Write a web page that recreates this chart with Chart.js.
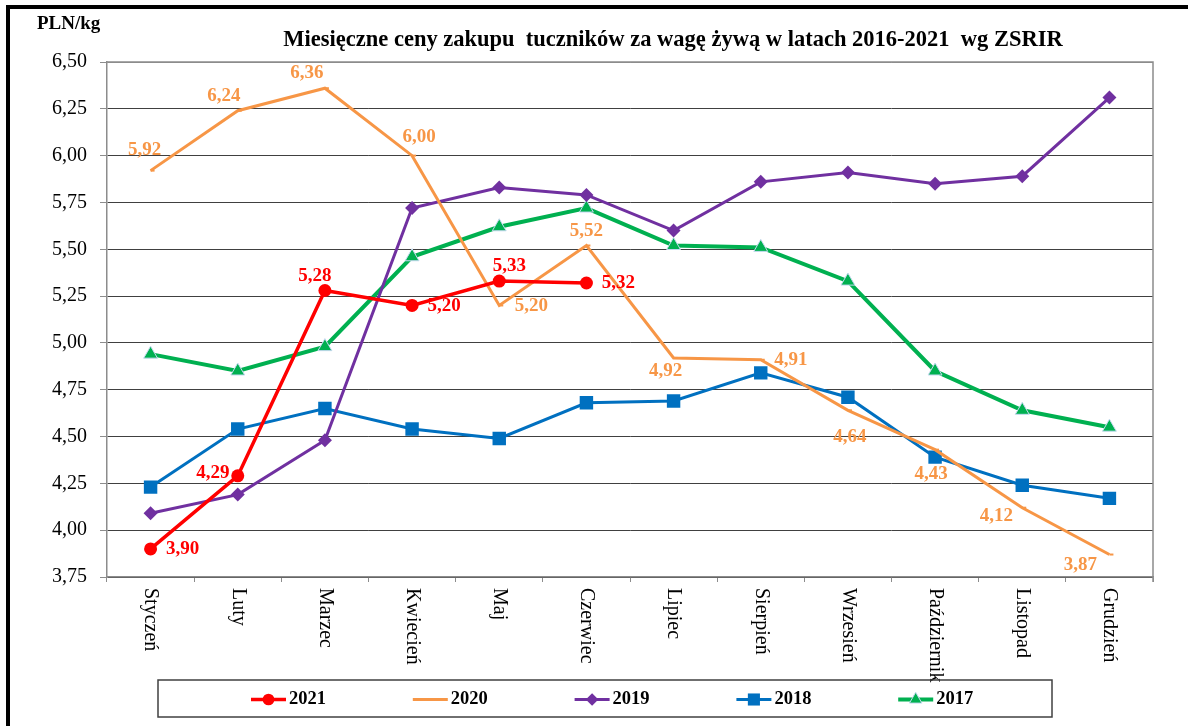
<!DOCTYPE html>
<html>
<head>
<meta charset="utf-8">
<script src="https://cdn.jsdelivr.net/npm/chart.js@4/dist/chart.umd.min.js"></script>
<style>
html,body{margin:0;padding:0;background:#fff;}
#wrap{width:1188px;height:726px;}
</style>
</head>
<body>
<div id="wrap"><canvas id="c" width="1188" height="726"></canvas></div>
<script>
const months = ['Styczeń','Luty','Marzec','Kwiecień','Maj','Czerwiec','Lipiec','Sierpień','Wrzesień','Październik','Listopad','Grudzień'];
const y2021 = [3.90, 4.29, 5.28, 5.20, 5.33, 5.32];
const y2020 = [5.92, 6.24, 6.36, 6.00, 5.20, 5.52, 4.92, 4.91, 4.64, 4.43, 4.12, 3.87];
const y2019 = [4.09, 4.19, 4.48, 5.72, 5.83, 5.79, 5.60, 5.86, 5.91, 5.85, 5.89, 6.31];
const y2018 = [4.23, 4.54, 4.65, 4.54, 4.49, 4.68, 4.69, 4.84, 4.71, 4.39, 4.24, 4.17];
const y2017 = [4.94, 4.85, 4.98, 5.46, 5.62, 5.72, 5.52, 5.51, 5.33, 4.85, 4.64, 4.55];
const seriesNames = ['2021', '2020', '2019', '2018', '2017'];
const yMin = 3.75, yMax = 6.50, yStep = 0.25;
const titleText = 'Miesięczne ceny zakupu  tuczników za wagę żywą w latach 2016-2021  wg ZSRIR';
const unitText = 'PLN/kg';

// label placement (styling only)
const lblOff2021 = [[32,0],[-25,-3],[-10,-14],[32,1],[10,-15],[32,0]];
const lblOff2020 = [[-6,-21],[-14,-15],[-18,-15],[7,-19],[32,1],[0,-14],[-8,13],[30,0],[2,27],[-4,24],[-26,8],[-29,11]];

const fmt = v => v.toFixed(2).replace('.', ',');
const SERIF = '"Liberation Serif", "Times New Roman", serif';

const COLORS = { r: '#FF0000', o: '#F79646', p: '#7030A0', b: '#0070C0', g: '#00B050' };

const datasets = [
  { label: seriesNames[0], data: y2021, borderColor: COLORS.r, backgroundColor: COLORS.r, borderWidth: 3.5,
    pointStyle: 'circle', pointRadius: 6.5, pointBorderWidth: 0, pointBackgroundColor: COLORS.r, _lbl: lblOff2021 },
  { label: seriesNames[1], data: y2020, borderColor: COLORS.o, backgroundColor: COLORS.o, borderWidth: 3,
    pointStyle: 'dash', pointRadius: 4, pointBorderWidth: 2, pointBorderColor: COLORS.o, _lbl: lblOff2020 },
  { label: seriesNames[2], data: y2019, borderColor: COLORS.p, backgroundColor: COLORS.p, borderWidth: 3,
    pointStyle: 'rectRot', pointRadius: 7, pointBorderWidth: 0, pointBackgroundColor: COLORS.p },
  { label: seriesNames[3], data: y2018, borderColor: COLORS.b, backgroundColor: COLORS.b, borderWidth: 3,
    pointStyle: 'rect', pointRadius: 9.5, pointBorderWidth: 0, pointBackgroundColor: COLORS.b },
  { label: seriesNames[4], data: y2017, borderColor: COLORS.g, backgroundColor: COLORS.g, borderWidth: 4,
    pointStyle: 'triangle', pointRadius: 8, pointBorderWidth: 1, pointBorderColor: '#c6d9f1', pointBackgroundColor: COLORS.g }
];
datasets.forEach(d => { d.tension = 0; d.fill = false; d.pointHoverRadius = d.pointRadius; });

const extras = {
  id: 'extras',
  beforeDraw(chart) {
    const ctx = chart.ctx;
    ctx.save();
    ctx.fillStyle = '#fff';
    ctx.fillRect(0, 0, chart.width, chart.height);
    ctx.restore();
  },
  afterDraw(chart) {
    const ctx = chart.ctx;
    const ca = chart.chartArea;
    const xs = chart.scales.x;
    ctx.save();
    // outer frame
    ctx.strokeStyle = '#000';
    ctx.lineWidth = 4;
    ctx.strokeRect(8, 7, 2000, 2000);
    // plot right/top border
    ctx.strokeStyle = '#8c8c8c';
    ctx.lineWidth = 1.5;
    ctx.beginPath();
    ctx.moveTo(ca.left, ca.top); ctx.lineTo(ca.right, ca.top); ctx.lineTo(ca.right, ca.bottom + 5);
    ctx.stroke();
    // unit and title
    ctx.fillStyle = '#000';
    ctx.textBaseline = 'alphabetic';
    ctx.textAlign = 'left';
    ctx.font = 'bold 19px ' + SERIF;
    ctx.fillText(unitText, 37, 29);
    ctx.font = 'bold 22.5px ' + SERIF;
    ctx.textAlign = 'center';
    ctx.fillText(titleText, 673, 46);
    // x labels rotated clockwise
    ctx.font = '20px ' + SERIF;
    ctx.textAlign = 'left';
    ctx.textBaseline = 'middle';
    months.forEach((m, i) => {
      const x = xs.getPixelForValue(i);
      ctx.save();
      ctx.translate(x, ca.bottom + 11);
      ctx.rotate(Math.PI / 2);
      ctx.fillText(m, 0, 0);
      ctx.restore();
    });
    // value labels
    ctx.font = 'bold 19px ' + SERIF;
    ctx.textAlign = 'center';
    ctx.textBaseline = 'middle';
    chart.data.datasets.forEach((ds, di) => {
      if (!ds._lbl) return;
      const meta = chart.getDatasetMeta(di);
      ctx.fillStyle = ds.borderColor;
      meta.data.forEach((pt, i) => {
        const o = ds._lbl[i];
        ctx.fillText(fmt(ds.data[i]), pt.x + o[0], pt.y + o[1]);
      });
    });
    // legend
    const lx = 158, ly = 680, lw = 894, lh = 37;
    ctx.strokeStyle = '#404040';
    ctx.lineWidth = 1.5;
    ctx.strokeRect(lx, ly, lw, lh);
    const cy = ly + lh / 2 + 1;
    ctx.font = 'bold 18.5px ' + SERIF;
    ctx.textAlign = 'left';
    ctx.textBaseline = 'middle';
    chart.data.datasets.forEach((ds, i) => {
      const x0 = 251 + i * 161.8;
      ctx.strokeStyle = ds.borderColor;
      ctx.lineWidth = ds.borderWidth;
      ctx.beginPath(); ctx.moveTo(x0, cy); ctx.lineTo(x0 + 35, cy); ctx.stroke();
      if (ds.pointStyle !== 'dash') {
        ctx.save();
        ctx.fillStyle = ds.pointBackgroundColor;
        ctx.strokeStyle = ds.pointBorderColor || ds.pointBackgroundColor;
        ctx.lineWidth = ds.pointBorderWidth || 0;
        Chart.helpers.drawPoint(ctx, {
          pointStyle: ds.pointStyle, rotation: 0, radius: ds.pointRadius * 0.9,
          borderWidth: ds.pointBorderWidth || 0
        }, x0 + 17.5, cy);
        ctx.restore();
      }
      ctx.fillStyle = '#000';
      ctx.fillText(ds.label, x0 + 38, cy);
    });
    ctx.restore();
  }
};

new Chart(document.getElementById('c'), {
  type: 'line',
  data: { labels: months, datasets },
  options: {
    responsive: false,
    animation: false,
    events: [],
    layout: { padding: { left: 0, right: 35, top: 62, bottom: 0 } },
    plugins: { legend: { display: false }, title: { display: false }, tooltip: { enabled: false } },
    scales: {
      x: {
        type: 'category',
        offset: true,
        grid: { display: true, drawOnChartArea: false, offset: true, tickLength: 5, color: '#8c8c8c', lineWidth: 1 },
        border: { display: true, color: '#8c8c8c', width: 1.5 },
        ticks: { display: false },
        afterFit(s) { s.height = 726 - 62 - 515; }
      },
      y: {
        min: yMin, max: yMax,
        ticks: {
          stepSize: yStep, color: '#000', padding: 13,
          font: { family: SERIF, size: 20 },
          callback: v => fmt(v)
        },
        grid: {
          color: ctx => (ctx.tick && Math.abs(ctx.tick.value - yMax) < 1e-6) ? '#8c8c8c' : '#404040',
          tickColor: '#8c8c8c', tickLength: 7, lineWidth: 1
        },
        border: { display: true, color: '#8c8c8c', width: 1.5 },
        afterFit(s) { s.width = 107; }
      }
    }
  },
  plugins: [extras]
});
</script>
</body>
</html>
